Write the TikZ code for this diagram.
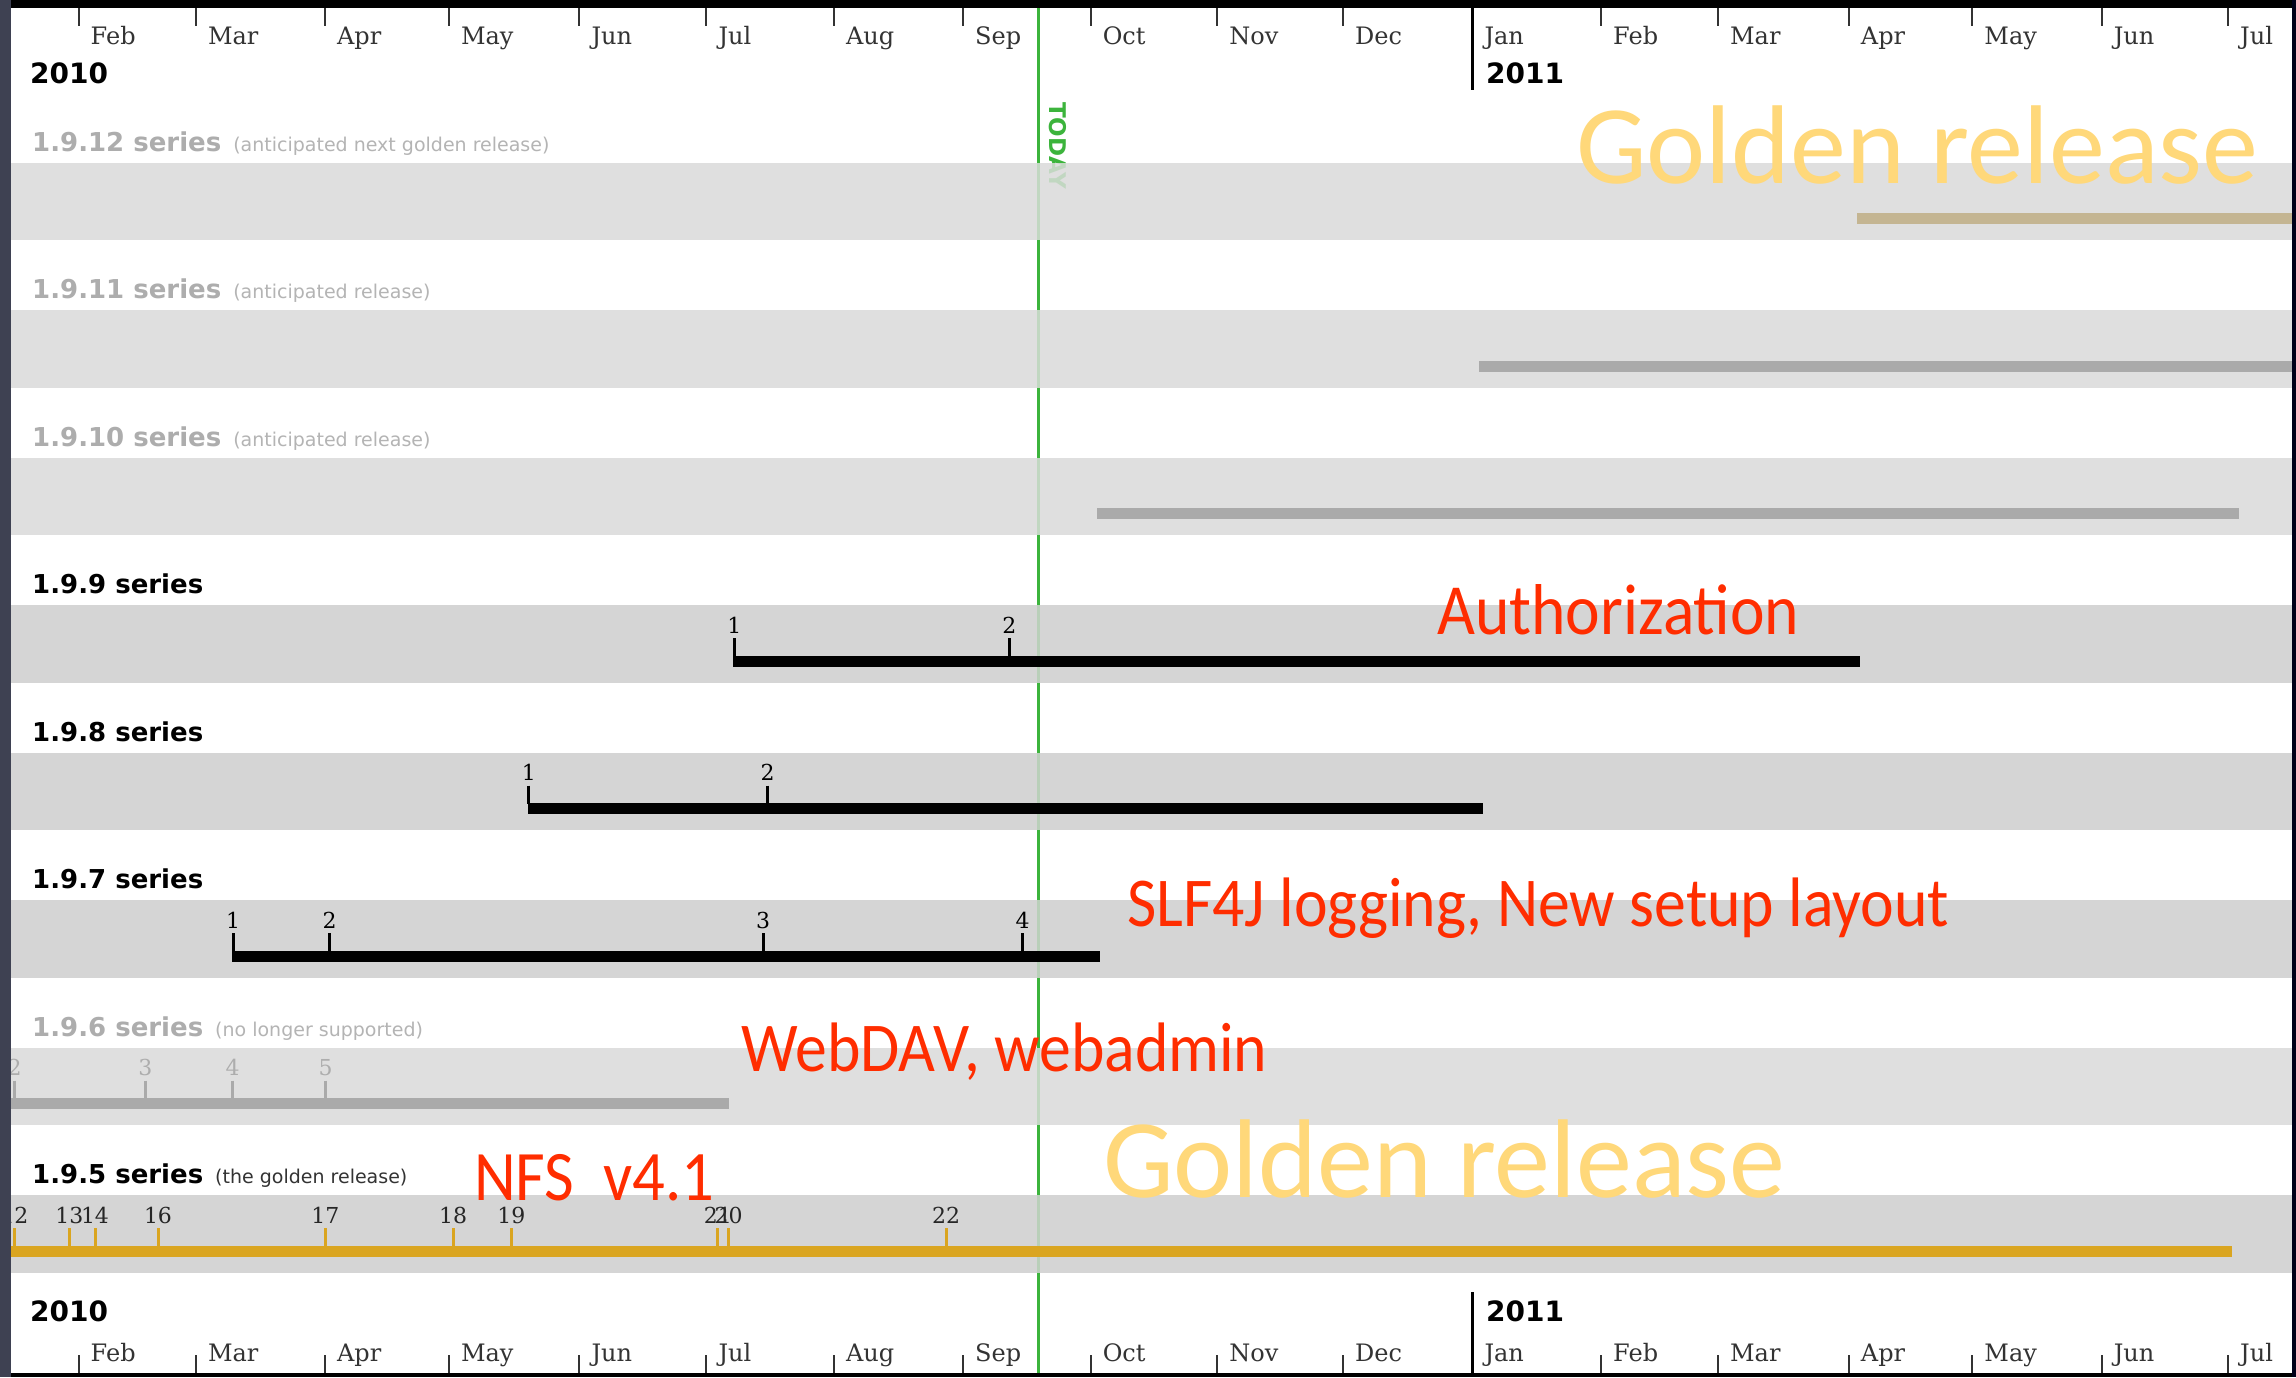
\documentclass[tikz,border=0pt]{standalone}
\usepackage{fontspec}
\newfontfamily\serf{DejaVu Serif}
\newfontfamily\sansf{DejaVu Sans}
\newfontfamily\annf{Carlito}[FakeStretch=0.91]
\newfontfamily\goldf{Carlito}
\definecolor{bandlight}{HTML}{DFDFDF}
\definecolor{banddark}{HTML}{D5D5D5}
\definecolor{fade}{HTML}{ADADAD}
\definecolor{fadenote}{HTML}{B4B4B4}
\definecolor{bargrey}{HTML}{AAAAAA}
\definecolor{bartan}{HTML}{C4B592}
\definecolor{gold}{HTML}{DAA520}
\definecolor{todaygreen}{HTML}{3CB43C}
\definecolor{annred}{HTML}{FF2D00}
\definecolor{goldtext}{HTML}{FFD87A}
\definecolor{sideslate}{HTML}{3E4152}
\tikzset{
  lightband/.style={fill=bandlight, draw=none},
  darkband/.style={fill=banddark, draw=none},
  mtick/.style={line width=2pt, black!80},
  yeartick/.style={line width=3pt, black},
  monthlbl/.style={anchor=base west, inner sep=0pt, font=\serf\fontsize{24}{24}\selectfont, text=black!80},
  yearlbl/.style={anchor=base west, inner sep=0pt, font=\sansf\bfseries\fontsize{28}{28}\selectfont},
  serieslbl/.style={anchor=base west, inner sep=0pt, font=\sansf\fontsize{26}{26}\selectfont},
  bar/.style={line width=11pt},
  reltick/.style={line width=3pt},
  rellbl/.style={anchor=base, inner sep=0pt, font=\serf\fontsize{22}{22}\selectfont},
  ann/.style={anchor=base west, inner sep=0pt, text=annred, font=\annf\fontsize{70}{70}\selectfont},
  golden/.style={anchor=base west, inner sep=0pt, text=goldtext, font=\goldf\fontsize{112}{112}\selectfont},
}
\newcommand{\notefont}{\fontsize{19}{19}\selectfont\mdseries}
\begin{document}
\begin{tikzpicture}[x=1pt,y=-1pt]
\useasboundingbox (0,0) rectangle (2296,1377);
\fill[white] (0,0) rectangle (2296,1377);
% bands (first pass)
\foreach \t/\s in {162.7/lightband,310.2/lightband,457.7/lightband,605.2/darkband,752.7/darkband,900.2/darkband,1047.7/lightband,1195.2/darkband}
  \path[\s] (11,\t) rectangle (2292,\t+77.5);
% today line
\draw[todaygreen, line width=2.5pt] (1038.3,8) -- (1038.3,1373);
\node[anchor=west, rotate=-90, inner sep=0pt, text=todaygreen, font=\sansf\bfseries\fontsize{23}{23}\selectfont] (today) at (1057.5,102) {TODAY};
% bands (second pass, translucent)
\foreach \t/\s in {162.7/lightband,310.2/lightband,457.7/lightband,605.2/darkband,752.7/darkband,900.2/darkband,1047.7/lightband,1195.2/darkband}
  \path[\s, fill opacity=0.82] (11,\t) rectangle (2292,\t+77.5);

% series labels
\node[serieslbl, text=fade] (s12) at (32,151.2) {\bfseries 1.9.12 series\hspace{12pt}{\notefont\color{fadenote}(anticipated next golden release)}};
\node[serieslbl, text=fade] (s11) at (32,298.7) {\bfseries 1.9.11 series\hspace{12pt}{\notefont\color{fadenote}(anticipated release)}};
\node[serieslbl, text=fade] (s10) at (32,446.2) {\bfseries 1.9.10 series\hspace{12pt}{\notefont\color{fadenote}(anticipated release)}};
\node[serieslbl, text=black] (s9) at (32,593.7) {\bfseries 1.9.9 series};
\node[serieslbl, text=black] (s8) at (32,741.2) {\bfseries 1.9.8 series};
\node[serieslbl, text=black] (s7) at (32,888.7) {\bfseries 1.9.7 series};
\node[serieslbl, text=fade] (s6) at (32,1036.2) {\bfseries 1.9.6 series\hspace{12pt}{\notefont\color{fadenote}(no longer supported)}};
\node[serieslbl, text=black] (s5) at (32,1183.7) {\bfseries 1.9.5 series\hspace{12pt}{\notefont\color{black!80}(the golden release)}};

% bars
\draw[bar, bartan] (1857,218.7) -- (2292,218.7);
\draw[bar, bargrey] (1479,366.2) -- (2292,366.2);
\draw[bar, bargrey] (1097,513.7) -- (2239,513.7);
% 1.9.9
\draw[bar, black] (733,661.2) -- (1860,661.2);
\foreach \x/\n in {734.4/1,1009.4/2}{
  \draw[reltick, black] (\x,638.2) -- (\x,657);
  \node[rellbl] (r9n\n) at (\x,633.2) {\n};}
% 1.9.8
\draw[bar, black] (528,808.7) -- (1483,808.7);
\foreach \x/\n in {528.9/1,767.7/2}{
  \draw[reltick, black] (\x,785.7) -- (\x,804);
  \node[rellbl] (r8n\n) at (\x,780.7) {\n};}
% 1.9.7
\draw[bar, black] (232,956.2) -- (1100,956.2);
\foreach \x/\n in {233.2/1,329.7/2,763.1/3,1022.6/4}{
  \draw[reltick, black] (\x,933.2) -- (\x,952);
  \node[rellbl] (r7n\n) at (\x,928.2) {\n};}
% 1.9.6
\draw[bar, bargrey] (11,1103.7) -- (728.6,1103.7);
\foreach \x/\n in {14.5/2,145.4/3,232.7/4,325.7/5}{
  \draw[reltick, bargrey] (\x,1080.7) -- (\x,1099);
  \node[rellbl, text=fade] (r6n\n) at (\x,1075.7) {\n};}
% 1.9.5
\draw[bar, gold] (11,1251.2) -- (2232,1251.2);
\foreach \x/\n in {14.5/12,69.3/13,95/14,158/16,325.3/17,453.2/18,511.4/19,717.9/21,728.6/20,946/22}{
  \draw[reltick, gold] (\x,1228.2) -- (\x,1247);
  \node[rellbl, text=black!85] (r5n\n) at (\x,1223.2) {\n};}

% top axis
\foreach \x/\m [count=\i] in {78.5/Feb,195.8/Mar,324.9/Apr,448.8/May,579.4/Jun,706.3/Jul,833.9/Aug,963.0/Sep,1090.6/Oct,1217.2/Nov,1343/Dec,1601/Feb,1717.9/Mar,1848.7/Apr,1972.2/May,2101.6/Jun,2228/Jul}{
  \draw[mtick] (\x,8) -- (\x,26);
  \node[monthlbl] (tm\i) at (\x+12,44) {\m};
  \draw[mtick] (\x,1373) -- (\x,1355);
  \node[monthlbl] (bm\i) at (\x+12,1361.7) {\m};}
\draw[yeartick] (1472.3,8) -- (1472.3,90);
\node[monthlbl] (tjan) at (1484.3,44) {Jan};
\draw[yeartick] (1472.3,1373) -- (1472.3,1292);
\node[monthlbl] (bjan) at (1484.3,1361.7) {Jan};
\node[yearlbl] (ty0) at (30,83.3) {2010};
\node[yearlbl] (ty1) at (1486,83.3) {2011};
\node[yearlbl] (by0) at (30,1321.7) {2010};
\node[yearlbl] (by1) at (1486,1321.7) {2011};

% annotations
\node[golden] (g1) at (1576,183) {Golden release};
\node[golden] (g2) at (1103,1197) {Golden release};
\node[ann, font=\annf\fontsize{72}{72}\selectfont] (a9) at (1437,634) {Authorization};
\node[ann] (a7) at (1127,926.7) {SLF4J logging, New setup layout};
\node[ann] (a6) at (741,1071.7) {WebDAV, webadmin};
\node[ann, font=\annf\fontsize{71}{71}\selectfont] (a5) at (474,1200) {NFS\ \ v4.1};

% frame
\fill[black] (0,0) rectangle (2296,8);
\fill[black] (0,1373) rectangle (2296,1377);
\fill[sideslate] (0,0) rectangle (11,1377);
\fill[black!90!blue] (2292,0) rectangle (2296,1377);
\end{tikzpicture}
\end{document}
